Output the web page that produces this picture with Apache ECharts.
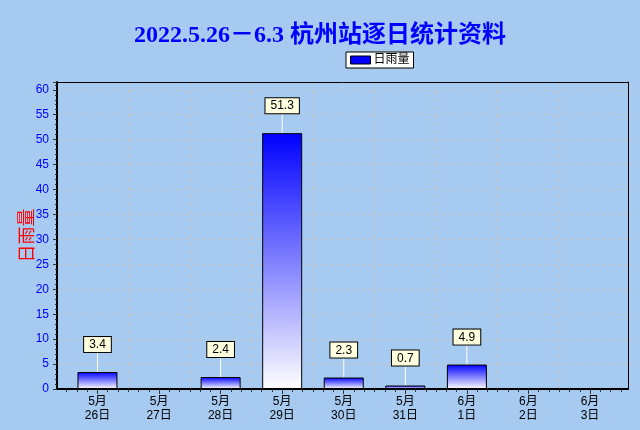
<!DOCTYPE html>
<html><head><meta charset="utf-8">
<script src="https://cdn.jsdelivr.net/npm/echarts@6/dist/echarts.min.js"></script>
<style>html,body{margin:0;padding:0;background:#A6CAF0}#c{width:640px;height:430px}</style>
</head><body><div id="c"></div>
<script>
const titleText = '2022.5.26－6.3 杭州站逐日统计资料';
const seriesName = '日雨量';
const months = ['5月','5月','5月','5月','5月','5月','6月','6月','6月'];
const days = ['26日','27日','28日','29日','30日','31日','1日','2日','3日'];
const rain = [3.4, null, 2.4, 51.3, 2.3, 0.7, 4.9, null, null];
const yMin = 0, yMax = 61.56, yStep = 5;

const categories = months.map((m, i) => m + '\n' + days[i]);
const minorCats = [];
for (let i = 0; i < categories.length * 6; i++) minorCats.push('');

const chart = echarts.init(document.getElementById('c'), null, {renderer: 'canvas'});
const numFont = 'Liberation Sans, Arial, sans-serif';
const cjkFont = 'Liberation Sans, Noto Sans CJK SC, sans-serif';
const frameAxis = (extra) => Object.assign({
  gridIndex: 0, type: 'value', min: 0, max: 1,
  axisLine: {show: true, onZero: false, lineStyle: {color: '#000', width: 1}},
  axisTick: {show: false}, axisLabel: {show: false}, splitLine: {show: false}
}, extra);
chart.setOption({
  backgroundColor: '#A6CAF0',
  animation: false,
  title: {
    text: titleText, left: 'center', top: 19,
    textStyle: {color: '#0000FF', fontSize: 24, fontWeight: 'bold', fontFamily: 'Liberation Serif, Noto Sans CJK SC, serif'}
  },
  legend: {
    left: 346, top: 52, padding: [2, 4, 2, 4], itemGap: 4,
    backgroundColor: '#FFFFFF', borderColor: '#000000', borderWidth: 1, borderRadius: 0,
    itemWidth: 20, itemHeight: 8,
    textStyle: {color: '#000', fontSize: 12, fontFamily: cjkFont, padding: [0, 0, 0, -2]},
    data: [{name: seriesName, icon: 'rect', itemStyle: {color: '#0000FF', borderColor: '#000', borderWidth: 1}}]
  },
  grid: [
    {left: 57, right: 12, top: 82, bottom: 41},
    {left: 66.7, right: 19.2, top: 82, bottom: 41}
  ],
  xAxis: [
    frameAxis({position: 'bottom', axisLine: {show: true, onZero: false, lineStyle: {color: '#000', width: 2}}}),
    {gridIndex: 1, type: 'category', data: categories, boundaryGap: true,
     axisLine: {show: false},
     axisTick: {show: true, alignWithLabel: true, length: 5, lineStyle: {color: '#333', width: 1}},
     axisLabel: {color: '#000', fontSize: 12, lineHeight: 14, margin: 6, fontFamily: cjkFont, interval: 0},
     splitLine: {show: true, showMinLine: false, showMaxLine: false, lineStyle: {color: '#C4C4C4', type: [4, 4], width: 1}}},
    {gridIndex: 1, type: 'category', data: minorCats, boundaryGap: true, position: 'bottom',
     axisLine: {show: false}, axisTick: {show: true, length: 3, lineStyle: {color: '#333', width: 1}},
     axisLabel: {show: false}, splitLine: {show: false}},
    frameAxis({position: 'top'})
  ],
  yAxis: [
    {gridIndex: 0, type: 'value', min: yMin, max: yMax, interval: yStep, position: 'left',
     name: seriesName, nameLocation: 'middle', nameRotate: 90, nameGap: 20, nameMoveOverlap: false,
     nameTextStyle: {color: '#FF0000', fontSize: 18, fontFamily: cjkFont},
     axisLine: {show: true, onZero: false, lineStyle: {color: '#000', width: 2}},
     axisTick: {show: true, length: 4, lineStyle: {color: '#333'}},
     minorTick: {show: true, splitNumber: 5, length: 2, lineStyle: {color: '#333'}},
     axisLabel: {color: '#0000FF', fontSize: 12, margin: 8, fontFamily: numFont, showMaxLabel: false},
     splitLine: {show: true, showMinLine: false, showMaxLine: false, lineStyle: {color: '#C4C4C4', type: [4, 4], width: 1}}},
    {gridIndex: 1, type: 'value', min: yMin, max: yMax, interval: yStep, show: false, splitLine: {show: false}},
    frameAxis({position: 'right'})
  ],
  series: [{
    name: seriesName, type: 'bar', xAxisIndex: 1, yAxisIndex: 1,
    data: rain, barWidth: 40,
    itemStyle: {
      color: new echarts.graphic.LinearGradient(0, 0, 0, 1, [{offset: 0, color: '#0000FF'}, {offset: 1, color: '#FFFFFF'}]),
      borderColor: '#000', borderWidth: 1
    },
    label: {show: true, position: 'top', distance: 0, color: '#000', fontSize: 12, fontFamily: numFont,
      backgroundColor: '#FFFFE0', borderColor: '#000', borderWidth: 1, padding: [2, 5, 1, 5]},
    labelLayout: {dy: -20},
    labelLine: {show: true, lineStyle: {color: '#FFFFFF', width: 1}}
  }]
});
</script></body></html>
